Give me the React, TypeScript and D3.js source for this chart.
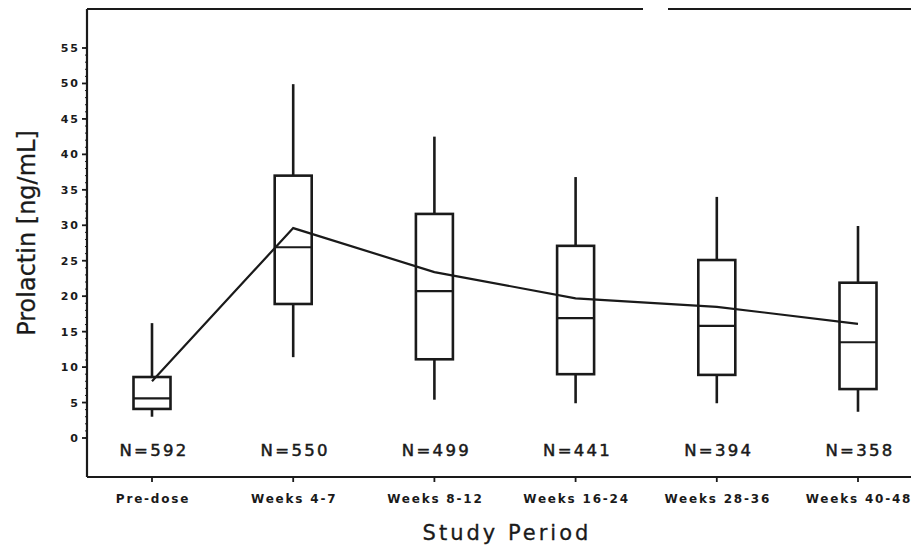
import React from "react";
import * as d3 from "d3";

const categories = ["Pre-dose", "Weeks 4-7", "Weeks 8-12", "Weeks 16-24", "Weeks 28-36", "Weeks 40-48"];
const nLabels = ["N=592", "N=550", "N=499", "N=441", "N=394", "N=358"];
const whiskerLow = [3.0, 11.4, 5.4, 4.9, 4.9, 3.7];
const q1 = [4.1, 18.9, 11.1, 9.0, 8.9, 6.9];
const median = [5.6, 26.9, 20.7, 16.9, 15.8, 13.5];
const q3 = [8.6, 37.0, 31.6, 27.1, 25.1, 21.9];
const whiskerHigh = [16.2, 49.9, 42.5, 36.8, 34.0, 29.9];
const means = [8.0, 29.6, 23.4, 19.7, 18.5, 16.1];
const yTicks = [0, 5, 10, 15, 20, 25, 30, 35, 40, 45, 50, 55];

const W = 911;
const H = 548;
const left = 87;
const top = 9;
const bottom = 477;

export default function App() {
  const y = d3.scaleLinear().domain([0, 55]).range([438, 48]);
  const x = d3.scalePoint<string>().domain(categories).range([152, 858]);
  const boxW = 37;
  const minor = d3.range(0, 56, 1);
  const line = d3
    .line<number>()
    .x((_, i) => x(categories[i]) as number)
    .y((d) => y(d));

  const ink = "#1a1a1a";
  return (
    <svg
      width={W}
      height={H}
      style={{ position: "absolute", left: 0, top: 0, background: "#fff" }}
    >
      <rect width={W} height={H} fill="#fff" />
      {/* frame */}
      <line x1={left} x2={643} y1={top} y2={top} stroke={ink} strokeWidth={2} />
      <line x1={668} x2={W} y1={top} y2={top} stroke={ink} strokeWidth={2} />
      <line x1={left} x2={left} y1={top} y2={bottom} stroke={ink} strokeWidth={2.2} />
      <line x1={left} x2={W} y1={bottom} y2={bottom} stroke={ink} strokeWidth={2.2} />

      {/* y minor ticks */}
      {minor.map((v) => (
        <line key={"m" + v} x1={left - 2} x2={left} y1={y(v)} y2={y(v)} stroke={ink} strokeWidth={1} />
      ))}
      {/* y ticks */}
      {yTicks.map((v) => (
        <g key={"t" + v}>
          <line x1={left - 5} x2={left} y1={y(v)} y2={y(v)} stroke={ink} strokeWidth={1.8} />
          <text
            x={80}
            y={y(v)}
            dy="0.36em"
            textAnchor="end"
            fontFamily="DejaVu Sans"
            fontWeight="bold"
            fontSize={11}
            letterSpacing={2}
            fill={ink}
          >
            {v}
          </text>
        </g>
      ))}

      {/* x ticks & labels */}
      {categories.map((c, i) => (
        <g key={c}>
          <line x1={x(c)} x2={x(c)} y1={bottom} y2={bottom + 5} stroke={ink} strokeWidth={1.8} />
          <text
            x={(x(c) as number) + 1}
            y={503}
            textAnchor="middle"
            fontFamily="DejaVu Sans"
            fontWeight="bold"
            fontSize={12}
            letterSpacing={1.8}
            fill={ink}
          >
            {c}
          </text>
          <text
            x={(x(c) as number) + 2}
            y={456}
            textAnchor="middle"
            fontFamily="DejaVu Sans"
            fontSize={16.5}
            letterSpacing={2.3}
            fill={ink}
            stroke={ink}
            strokeWidth={0.5}
          >
            {nLabels[i]}
          </text>
        </g>
      ))}

      {/* boxes */}
      {categories.map((c, i) => {
        const cx = x(c) as number;
        return (
          <g key={"b" + c} stroke={ink} fill="none">
            <line x1={cx} x2={cx} y1={y(whiskerHigh[i])} y2={y(q3[i])} strokeWidth={2.6} />
            <line x1={cx} x2={cx} y1={y(q1[i])} y2={y(whiskerLow[i])} strokeWidth={2.6} />
            <rect
              x={cx - boxW / 2}
              y={y(q3[i])}
              width={boxW}
              height={y(q1[i]) - y(q3[i])}
              strokeWidth={2.6}
            />
            <line x1={cx - boxW / 2} x2={cx + boxW / 2} y1={y(median[i])} y2={y(median[i])} strokeWidth={2.2} />
          </g>
        );
      })}

      {/* mean line */}
      <path d={line(means) || ""} fill="none" stroke={ink} strokeWidth={2.2} />

      {/* axis titles */}
      <text
        x={507}
        y={540}
        textAnchor="middle"
        fontFamily="DejaVu Sans"
        fontSize={21}
        letterSpacing={3}
        fill={ink}
        stroke={ink}
        strokeWidth={0.3}
      >
        Study Period
      </text>
      <text
        transform="translate(35,233) rotate(-90)"
        textAnchor="middle"
        fontFamily="DejaVu Sans"
        fontSize={24}
        letterSpacing={0}
        fill={ink}
        stroke={ink}
        strokeWidth={0.3}
      >
        Prolactin [ng/mL]
      </text>
    </svg>
  );
}
